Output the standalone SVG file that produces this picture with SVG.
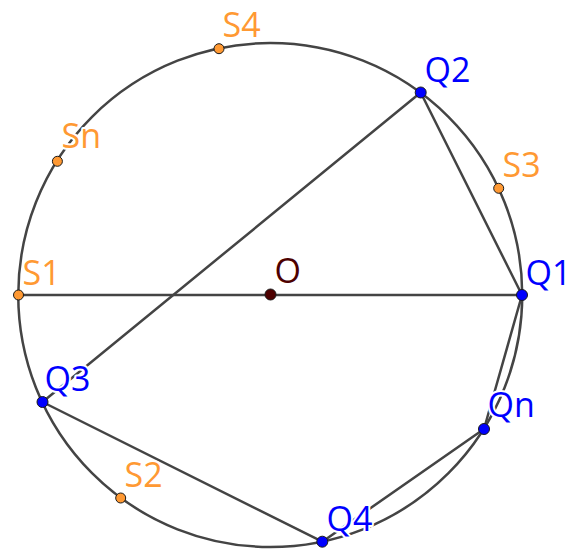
<svg xmlns="http://www.w3.org/2000/svg" width="578" height="552" viewBox="0 0 578 552">
<style>
.ln{stroke:#444;stroke-width:2.5;fill:none;stroke-linecap:round}
.q{fill:#0000ff;stroke:#1a1a1a;stroke-width:1}
.s{fill:#ff9933;stroke:#1a1a1a;stroke-width:1}
.o{fill:#4d0000;stroke:#1a1a1a;stroke-width:1}
text{font-family:"Open Sans","Noto Sans",sans-serif;font-size:34px;stroke:#fff;stroke-width:4;paint-order:stroke;stroke-linejoin:round}
.tq{fill:#0000ff}
.ts{fill:#ff9933}
.to{fill:#4d0000}
</style>
<rect width="578" height="552" fill="#fff"/>
<g id="connectors">
<circle class="ln" cx="270.25" cy="295" r="252"/>
<line class="ln" x1="18.5" y1="295" x2="522" y2="295"/>
<line class="ln" x1="420.7" y1="92.5" x2="42.5" y2="402"/>
<line class="ln" x1="420.7" y1="92.5" x2="522" y2="295"/>
<line class="ln" x1="42.5" y1="402" x2="322.3" y2="541.7"/>
<line class="ln" x1="522" y1="295" x2="484" y2="429"/>
<line class="ln" x1="484" y1="429" x2="322.3" y2="541.7"/>
</g>
<g id="S1"><circle class="s" cx="18.5" cy="295" r="5"/><text class="ts" x="22.5" y="285">S1</text></g>
<g id="S2"><circle class="s" cx="120.7" cy="498" r="5"/><text class="ts" x="124.5" y="487">S2</text></g>
<g id="S3"><circle class="s" cx="498.7" cy="188.3" r="5"/><text class="ts" x="502.5" y="177">S3</text></g>
<g id="S4"><circle class="s" cx="219" cy="48.7" r="5"/><text class="ts" x="222.5" y="37">S4</text></g>
<g id="Sn"><circle class="s" cx="57.4" cy="161.3" r="5"/><text class="ts" x="61.5" y="148">Sn</text></g>
<g id="O"><circle class="o" cx="270.5" cy="294.5" r="5.5"/><text class="to" x="274.5" y="283">O</text></g>
<g id="Q1"><circle class="q" cx="522" cy="295" r="5.5"/><text class="tq" x="525.5" y="285">Q1</text></g>
<g id="Q2"><circle class="q" cx="420.7" cy="92.5" r="5.5"/><text class="tq" x="424.5" y="82">Q2</text></g>
<g id="Q3"><circle class="q" cx="42.5" cy="402" r="5.5"/><text class="tq" x="44.5" y="391">Q3</text></g>
<g id="Q4"><circle class="q" cx="322.3" cy="541.7" r="5.5"/><text class="tq" x="326.5" y="531">Q4</text></g>
<g id="Qn"><circle class="q" cx="484" cy="429" r="5.5"/><text class="tq" x="487.5" y="417">Qn</text></g>
</svg>
